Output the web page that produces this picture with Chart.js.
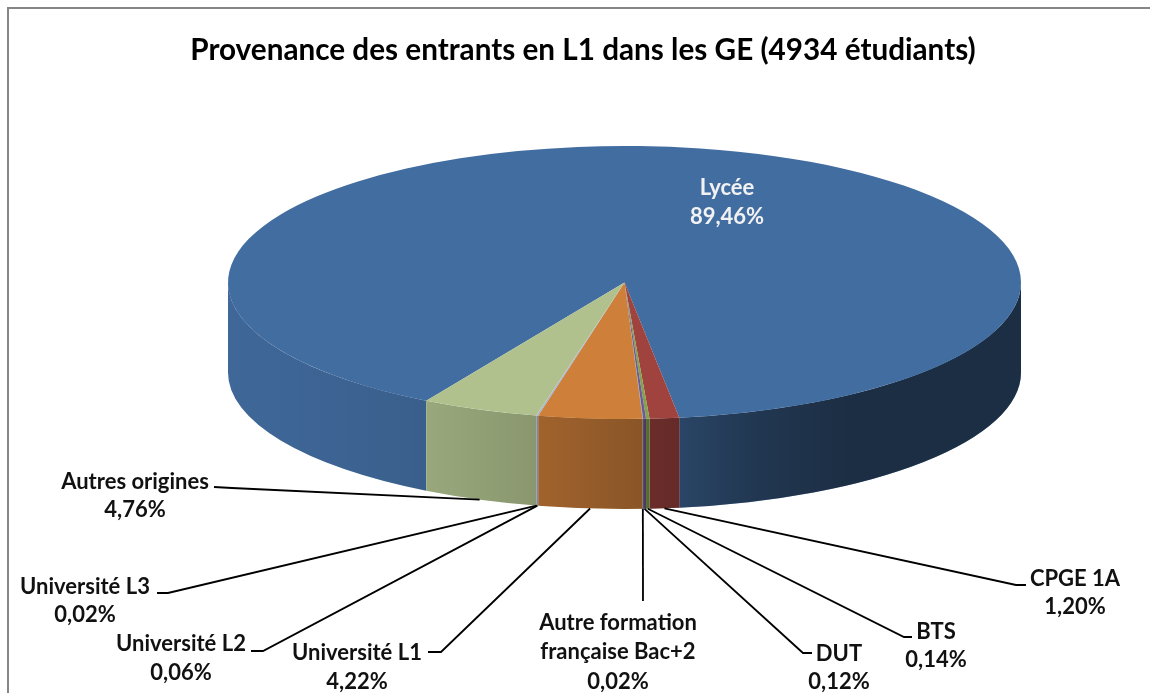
<!DOCTYPE html>
<html lang="fr">
<head>
<meta charset="utf-8">
<title>Provenance des entrants en L1</title>
<script src="https://cdn.jsdelivr.net/npm/chart.js@4"></script>
<style>
html,body{margin:0;padding:0;background:#fff;overflow:hidden}
canvas{display:block}
</style>
</head>
<body>
<canvas id="c" width="1150" height="693"></canvas>
<script>
const chartTitle = 'Provenance des entrants en L1 dans les GE (4934 étudiants)';
const categories = ['Lycée','CPGE 1A','BTS','DUT','Autre formation française Bac+2','Université L1','Université L2','Université L3','Autres origines'];
const shares = [89.46,1.20,0.14,0.12,0.02,4.22,0.06,0.02,4.76];
const sliceColors = ['#426DA1','#A0433F','#84A24A','#6E5A95','#4A9BB0','#CE7F3A','#95B3D7','#D99694','#B0C18E'];

const PIE_CX = 624.5, PIE_CY = 282.5, PIE_RX = 396.5, PIE_RY = 136.5, PIE_DEPTH = 90;
const WALL_SHADE = [[228,.05],[330,.09],[426,.13],[536,.22],[640,.33],[680,.37],[760,.5],[850,.58],[1021,.58]];

// label layout: text lines, centre x, line centre ys, leader elbow points (label end first)
const labelLayout = [
  {lines:['Lycée','89,46%'], x:727, ys:[188,217], color:'#F2F2F2'},
  {lines:['CPGE 1A','1,20%'], x:1075, ys:[579,607], leader:[[1026,585],[1016,585]]},
  {lines:['BTS','0,14%'], x:936, ys:[632,660], leader:[[912,637],[904,637]]},
  {lines:['DUT','0,12%'], x:839, ys:[654,682], leader:[[812,653],[803,653]]},
  {lines:['Autre formation','française Bac+2','0,02%'], x:618, ys:[623,652,682], leader:[[643,601]]},
  {lines:['Université L1','4,22%'], x:357, ys:[653,682], leader:[[428,652],[441,652]]},
  {lines:['Université L2','0,06%'], x:181, ys:[644,673], leader:[[251,651],[263,651]]},
  {lines:['Université L3','0,02%'], x:85, ys:[587,615], leader:[[157,593],[168,593]]},
  {lines:['Autres origines','4,76%'], x:135, ys:[482,510], leader:[[214,487],[232,488]]}
];
const LABEL_FONT = 'bold 22px Lato, "Open Sans", sans-serif';

const TAU = Math.PI * 2;
const pie3d = {
  id: 'pie3d',
  beforeDraw(chart) {
    const ctx = chart.ctx;
    ctx.save();
    ctx.fillStyle = '#fff';
    ctx.fillRect(0, 0, chart.width, chart.height);
    ctx.fillStyle = '#868686';
    ctx.fillRect(7, 7, chart.width - 7, 2);
    ctx.fillRect(7, 7, 2, chart.height - 7);
    ctx.restore();
  },
  beforeDatasetsDraw(chart) {
    const ctx = chart.ctx, arcs = chart.getDatasetMeta(0).data;
    const shade = ctx.createLinearGradient(228, 0, 1021, 0);
    WALL_SHADE.forEach(([x, a]) => shade.addColorStop((x - 228) / (1021 - 228), `rgba(0,0,0,${a})`));
    ctx.save();
    arcs.forEach(arc => {
      for (const k of [-1, 0, 1]) {
        const a0 = Math.max(arc.startAngle, k * TAU);
        const a1 = Math.min(arc.endAngle, k * TAU + Math.PI);
        if (a1 <= a0) continue;
        ctx.beginPath();
        ctx.ellipse(PIE_CX, PIE_CY, PIE_RX, PIE_RY, 0, a0, a1);
        ctx.ellipse(PIE_CX, PIE_CY + PIE_DEPTH, PIE_RX, PIE_RY, 0, a1, a0, true);
        ctx.closePath();
        ctx.fillStyle = arc.options.backgroundColor;
        ctx.fill();
        ctx.fillStyle = shade;
        ctx.fill();
      }
    });
    ctx.restore();
    // squash the library's own arcs into the top face
    const first = arcs[0];
    ctx.save();
    ctx.translate(PIE_CX, PIE_CY);
    ctx.scale(1, PIE_RY / PIE_RX);
    ctx.translate(-first.x, -first.y);
  },
  afterDatasetsDraw(chart) {
    chart.ctx.restore();
  },
  afterDraw(chart) {
    const ctx = chart.ctx, arcs = chart.getDatasetMeta(0).data;
    ctx.save();
    labelLayout.forEach((lab, i) => {
      if (lab.leader) {
        const mid = (arcs[i].startAngle + arcs[i].endAngle) / 2;
        const ax = PIE_CX + PIE_RX * Math.cos(mid);
        const ay = PIE_CY + PIE_DEPTH + PIE_RY * Math.sin(mid);
        ctx.beginPath();
        lab.leader.forEach(([x, y], j) => j ? ctx.lineTo(x, y) : ctx.moveTo(x, y));
        ctx.lineTo(ax, ay);
        ctx.strokeStyle = '#000';
        ctx.lineWidth = 1.8;
        ctx.stroke();
      }
      ctx.font = LABEL_FONT;
      ctx.fillStyle = lab.color || '#111';
      ctx.textAlign = 'center';
      ctx.textBaseline = 'middle';
      lab.lines.forEach((t, j) => ctx.fillText(t, lab.x, lab.ys[j]));
    });
    ctx.restore();
  }
};

new Chart(document.getElementById('c'), {
  type: 'pie',
  data: {
    labels: categories,
    datasets: [{
      data: shares,
      backgroundColor: sliceColors,
      borderWidth: 0,
      radius: PIE_RX,
      clip: false
    }]
  },
  options: {
    responsive: false,
    animation: false,
    rotation: 210,
    layout: {padding: {left: 16}},
    events: [],
    plugins: {
      legend: {display: false},
      tooltip: {enabled: false},
      title: {
        display: true,
        text: chartTitle,
        fullSize: false,
        color: '#000',
        font: {family: 'Lato, "Open Sans", sans-serif', size: 29.7, weight: 'bold'},
        padding: {top: 33, bottom: 10}
      }
    }
  },
  plugins: [pie3d]
});
</script>
</body>
</html>
